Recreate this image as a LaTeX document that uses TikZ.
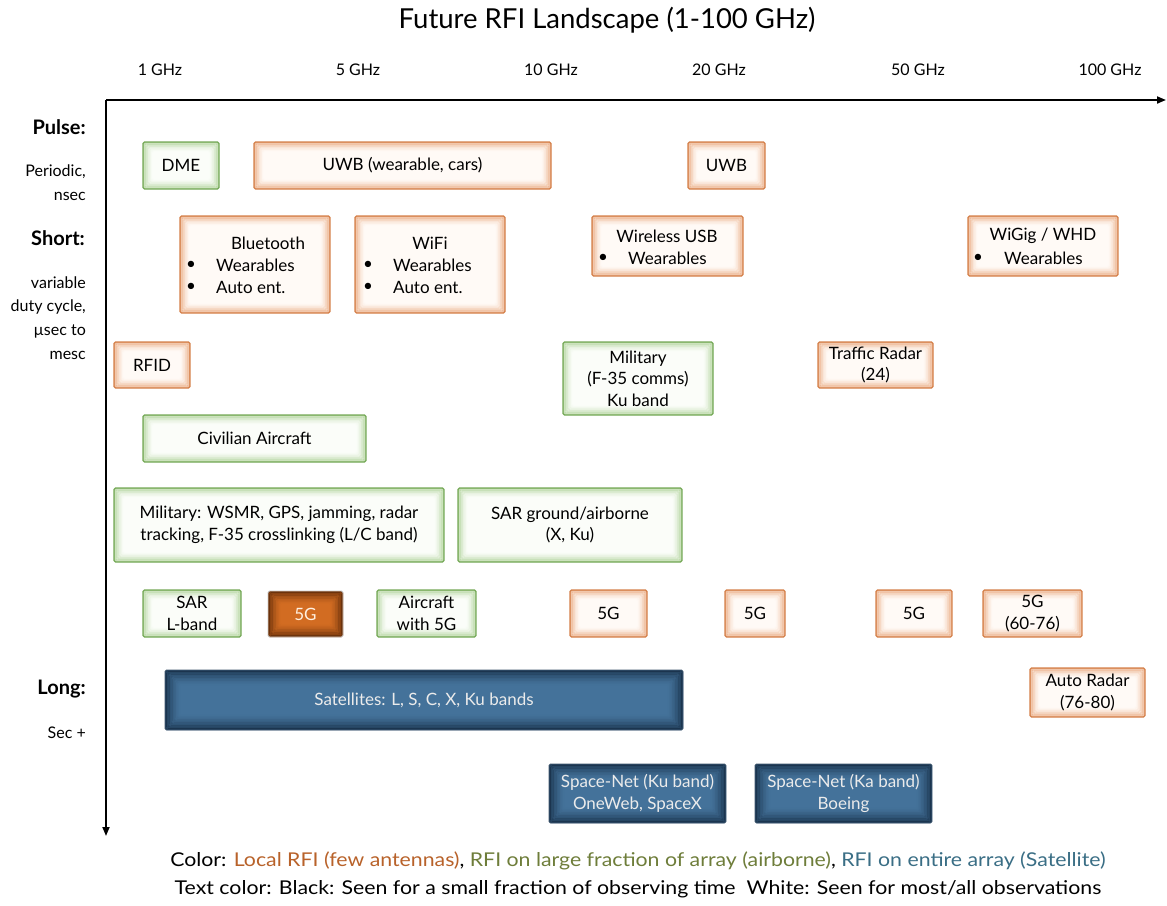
\documentclass[tikz,border=0pt]{standalone}
\usepackage{fontspec}
\setmainfont{Lato}
\usetikzlibrary{arrows.meta}
\definecolor{locB}{HTML}{D4804A}
\definecolor{locE}{HTML}{EAAA80}
\definecolor{locF}{HTML}{FFFAF6}
\definecolor{grnB}{HTML}{74A856}
\definecolor{grnE}{HTML}{B0D39A}
\definecolor{grnF}{HTML}{FBFDF9}
\definecolor{satB}{HTML}{2C4C68}
\definecolor{satE}{HTML}{152C44}
\definecolor{satF}{HTML}{44729A}
\definecolor{dkE}{HTML}{5A2808}
\definecolor{dkF}{HTML}{D26C22}
\definecolor{legO}{HTML}{B8622A}
\definecolor{legG}{HTML}{6E7D3A}
\definecolor{legB}{HTML}{3A6E85}
\newcommand\rfibox[7]{\node[#1, minimum width={(#5-#3)*1pt}, minimum height={(#6-#4)*1pt}] (#2) at ({(#3+#5)/2},{(#4+#6)/2}) {#7};}
\tikzset{
  glow/.style n args={4}{path picture={
    \foreach \i in {0,...,#3}{
      \pgfmathtruncatemacro\p{100*(1-\i/#3)^1.5}
      \draw[draw={#1!\p!#2}, line width={#4*1.15pt}]
        ([shift={(\i*#4*1pt+#4*0.5pt,-\i*#4*1pt-#4*0.5pt)}]path picture bounding box.north west)
        rectangle
        ([shift={(-\i*#4*1pt-#4*0.5pt,\i*#4*1pt+#4*0.5pt)}]path picture bounding box.south east);
    }}},
  bxfont/.style={font=\fontsize{17}{21.5}\selectfont},
  rbox/.style={draw, rounded corners=1.5pt, line width=1.2pt, inner sep=0pt, align=center, bxfont},
  loc/.style={rbox, draw=locB, fill=locF, glow={locE}{locF}{14}{0.7}},
  grn/.style={rbox, draw=grnB, fill=grnF, glow={grnE}{grnF}{14}{0.7}},
  sat/.style={rbox, draw=satB!80!gray, line width=0.8pt, fill=satF, glow={satE}{satF}{26}{0.6}, text=white!92!black},
  dk/.style={rbox, draw=gray!45, line width=0.8pt, fill=dkF, glow={dkE}{dkF}{22}{0.6}, text=white!88!orange},
  txt/.style={bxfont, inner sep=0pt},
  freq/.style={font=\fontsize{16}{18}\selectfont},
  side/.style={font=\fontsize{16}{18}\selectfont, anchor=east, inner sep=0pt},
  sidehead/.style={font=\fontsize{20}{22}\selectfont\bfseries, anchor=east, inner sep=0pt},
  leg/.style={font=\fontsize{19}{22}\selectfont\addfontfeatures{FakeStretch=1.12}, inner sep=0pt},
  axis/.style={line width=1.8pt, -{Triangle[length=9pt,width=7pt]}}
}
\begin{document}
\begin{tikzpicture}[x=1pt,y=-1pt]
\useasboundingbox (0,0) rectangle (1167,905);
% title
\node[font=\fontsize{27.5}{30}\selectfont] (title) at (607,20) {Future RFI Landscape (1-100 GHz)};
% axes
\coordinate (org) at (106,100);
\coordinate (xend) at (1166,100);
\coordinate (yend) at (106,836);
\draw[axis] (org) -- (xend);
\draw[axis] (org) -- (yend);
% frequency labels
\node[freq] (f1) at (160,70) {1 GHz};
\node[freq] (f5) at (358,70) {5 GHz};
\node[freq] (f10) at (551,70) {10 GHz};
\node[freq] (f20) at (719,70) {20 GHz};
\node[freq] (f50) at (918,70) {50 GHz};
\node[freq] (f100) at (1110,70) {100 GHz};
% side labels
\node[sidehead] (pulse) at (86,127) {Pulse:};
\node[side] (s1) at (86,172) {Periodic,};
\node[side] (s2) at (86,196) {nsec};
\node[sidehead] (short) at (85,238) {Short:};
\node[side] (s3) at (86,283) {variable};
\node[side] (s4) at (86,307) {duty cycle,};
\node[side] (s5) at (86,331) {µsec to};
\node[side] (s6) at (86,355) {mesc};
\node[sidehead] (long) at (86,689) {Long:};
\node[side] (s7) at (86,733) {Sec +};
% boxes
\rfibox{grn}{dme}{143}{142}{219}{189}{DME}
\rfibox{loc}{uwb1}{254}{142}{551}{189}{UWB (wearable, cars)}
\rfibox{loc}{uwb2}{688}{142}{765}{189}{UWB}
\rfibox{loc}{bt}{180}{216}{330}{313}{}
\rfibox{loc}{wifi}{355}{216}{505}{313}{}
\rfibox{loc}{wusb}{592}{216}{743}{276}{}
\rfibox{loc}{wigig}{968}{216}{1118}{276}{}
\rfibox{loc}{rfid}{114}{342}{190}{388}{RFID}
\rfibox{grn}{mil1}{563}{342}{713}{415}{Military\\(F-35 comms)\\Ku band}
\rfibox{loc}{traffic}{818}{342}{933}{388}{Traffic Radar\\(24)}
\rfibox{grn}{civ}{143}{415}{366}{462}{Civilian Aircraft}
\rfibox{grn}{mil2}{114}{488}{444}{562}{Military: WSMR, GPS, jamming, radar\\tracking, F-35 crosslinking (L/C band)}
\rfibox{grn}{sarx}{458}{488}{682}{562}{SAR ground/airborne\\(X, Ku)}
\rfibox{grn}{sarl}{143}{590}{241}{637}{SAR\\L-band}
\rfibox{dk}{g5a}{268}{591}{343}{637}{5G}
\rfibox{grn}{air5g}{377}{590}{476}{637}{Aircraft\\with 5G}
\rfibox{loc}{g5b}{570}{590}{647}{637}{5G}
\rfibox{loc}{g5c}{725}{590}{785}{637}{5G}
\rfibox{loc}{g5d}{876}{590}{952}{637}{5G}
\rfibox{loc}{g5e}{983}{590}{1082}{637}{5G\\(60-76)}
\rfibox{sat}{sats}{165}{670}{683}{730}{Satellites: L, S, C, X, Ku bands}
\rfibox{loc}{auto}{1030}{668}{1145}{717}{Auto Radar\\(76-80)}
\rfibox{sat}{spku}{549}{764}{726}{823}{Space-Net (Ku band)\\OneWeb, SpaceX}
\rfibox{sat}{spka}{755}{764}{932}{823}{Space-Net (Ka band)\\Boeing}
% bullet box texts
\node[txt] (btt) at (268,243) {Bluetooth};
\node[txt] (btb1) at (191,265) {\textbullet};
\node[txt, anchor=west] (btw) at (216,265) {Wearables};
\node[txt] (btb2) at (191,287) {\textbullet};
\node[txt, anchor=west] (bta) at (216,287) {Auto ent.};
\node[txt] (wft) at (430,243) {WiFi};
\node[txt] (wfb1) at (368,265) {\textbullet};
\node[txt, anchor=west] (wfw) at (393,265) {Wearables};
\node[txt] (wfb2) at (368,287) {\textbullet};
\node[txt, anchor=west] (wfa) at (393,287) {Auto ent.};
\node[txt] (wut) at (667,236) {Wireless USB};
\node[txt] (wub) at (603,258) {\textbullet};
\node[txt, anchor=west] (wuw) at (628,258) {Wearables};
\node[txt] (wgt) at (1043,236) {WiGig / WHD};
\node[txt] (wgb) at (978,258) {\textbullet};
\node[txt, anchor=west] (wgw) at (1004,258) {Wearables};
% legend
\node[leg] (leg1) at (638,861) {Color: \textcolor{legO}{Local RFI (few antennas)}, \textcolor{legG}{RFI on large fraction of array (airborne)}, \textcolor{legB}{RFI on entire array (Satellite)}};
\node[leg] (leg2) at (638,889) {Text color: Black: Seen for a small fraction of observing time\ \ White: Seen for most/all observations};
\end{tikzpicture}
\end{document}
